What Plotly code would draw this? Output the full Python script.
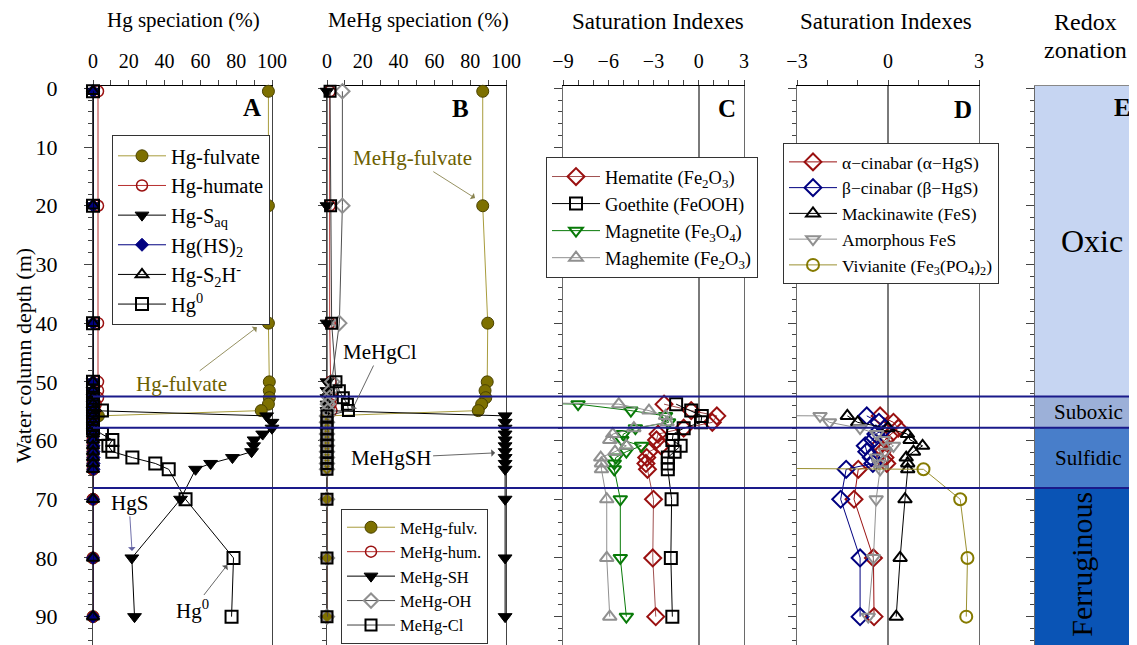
import plotly.graph_objects as go

# ---------------- data ----------------
depth = [0.5, 20, 40, 50, 51.5, 52.7, 53.8, 54.9, 55.8, 56.9, 57.9, 58.9,
         59.9, 60.9, 61.9, 62.9, 63.9, 64.9, 70, 80, 90]

# Panel A : Hg speciation (%)
hg_fulvate = [98, 98, 98, 98.5, 98.5, 98.5, 98, 94, 3, 0, 0, 0, 0, 0, 0, 0, 0, 0, 0, 0, 0]
hg_humate = [2.8, 2.8, 2.8, 2.8, 2.8, 2.8, 1.5, 1, 0, 0, 0, 0, 0, 0, 0, 0, 0, 0, 0, 0, 0]
hg_saq = [0, 0, 0, 0, 0, 0, 0, 0, 97, 100, 100, 94.8, 90, 89.7, 88.6, 77.9, 65.7, 57.3, 48.9, 21.7, 23.2]
hg_hs2 = [0, 0, 0, 0, 0, 0, 0, 0, 0, 0, 0, 0.3, 0.3, 0.3, 0.3, 0.3, 0.3, 0.3, 0, 0, 0]
hg_s2h = [0, 0, 0, 0, 0, 0, 0, 0, 0, 0, 0, 0, 0, 0, 0, 0, 0, 0, 0, 0, 0]
hg0 = [0, 0, 0, 0, 0, 0, 0, 5, 0, 0, 0, 5, 10.8, 8.6, 10.8, 22, 34.8, 42.3, 51.7, 78.5, 77.4]

# Panel B : MeHg speciation (%)
mehg_fulv = [87, 87, 89.8, 89.5, 88.3, 88.7, 86.4, 84.5, 0, 0, 0, 0, 0, 0, 0, 0, 0, 0, 0, 0, 0]
mehg_hum = [1.5, 1.5, 1.5, 2, 2.5, 2.5, 2, 2.5, 0, 0, 0, 0, 0, 0, 0, 0, 0, 0, 0, 0, 0]
mehg_sh = [0, 0, 0, 0, 0, 0, 0, 0, 99.5, 99.5, 99.5, 99.5, 99.5, 99.5, 99.5, 99.5, 99.5, 99.5, 99.5, 99.5, 99.5]
mehg_oh = [8.6, 8.6, 6.9, 3, 2, 1.5, 0.5, 0.5, 0, 0, 0, 0, 0, 0, 0, 0, 0, 0, 0, 0, 0]
mehg_cl = [1.7, 2, 2.6, 5, 6.9, 9.1, 11.4, 12, 0, 0, 0, 0, 0, 0, 0, 0, 0, 0, 0, 0, 0]

# Panel C : saturation indexes of Fe oxides (first depth value off-scale)
depth_c = [52.7, 53.8, 54.9, 55.8, 56.9, 57.9, 58.9, 59.9, 60.9, 61.9, 62.9, 63.9, 64.9, 70, 80, 90]
hematite = [None, -2.3, -0.5, 1.2, 0.9, -1.0, -2.7, -2.8, -2.5, -3.3, -3.45, -3.5, -3.4, -3.0, -3.05, -2.85]
goethite = [None, -1.5, -0.5, 0.2, 0.15, -1.0, -1.7, -1.75, -1.2, -1.6, -2.05, -2.05, -2.05, -1.8, -1.85, -1.75]
magnetite = [-30, -8.0, -4.5, -2.2, -2.0, -4.2, -5.0, -5.1, -3.8, -4.8, -5.5, -5.6, -5.6, -5.2, -5.2, -4.8]
maghemite = [-30, -5.3, -3.3, -2.2, -2.1, -4.3, -5.7, -5.9, -4.8, -5.55, -6.5, -6.45, -6.45, -6.1, -6.1, -5.9]

# Panel D : saturation indexes of sulfides / phosphate
depth_d = [54.9, 55.8, 56.9, 57.9, 58.9, 59.9, 60.9, 61.9, 62.9, 63.9, 64.9, 70, 80, 90]
a_cinabar = [None, -0.26, 0.18, 0.34, 0.1, -0.1, -0.3, -0.2, -0.1, -0.04, -0.98, -1.12, -0.48, -0.46]
b_cinabar = [None, -0.7, -0.3, -0.1, -0.4, -0.5, -0.75, -0.7, -0.55, -0.5, -1.38, -1.56, -0.92, -0.92]
mackinawite = [None, -1.34, -1.0, 0.0, 0.64, 0.73, 1.14, 0.84, 0.6, 0.65, 0.65, 0.56, 0.4, 0.27]
amorph_fes = [-30, -2.24, -1.93, -0.92, -0.37, -0.15, 0.18, -0.1, -0.37, -0.3, -0.26, -0.39, -0.48, -0.65]
vivianite = [None, None, None, None, None, None, None, None, None, -30, 1.17, 2.38, 2.62, 2.58]

# Panel E : redox zonation
zone_names = ["Oxic", "Suboxic", "Sulfidic", "Ferruginous"]
zone_top = [-0.4, 52.5, 57.8, 68.1]
zone_bottom = [52.5, 57.8, 68.1, 94.83]
zone_colors = ["rgb(198,213,242)", "rgb(156,176,216)", "rgb(72,126,202)", "rgb(10,84,181)"]
zone_font = [32, 21, 21, 30]
zone_angle = [0, 0, 0, -90]
zone_xpos = [0.56, 0.52, 0.52, 0.46]
zone_label_depth = [26.0, 55.15, 62.95, 81.0]
boundaries = [52.5, 57.8, 68.1]

# ---------------- layout helpers ----------------
# the page body has an 8 px margin: the figure is drawn at (8, 8)
OFF = 8
W, H = 1137 - OFF, 645 - OFF
TOP = 86 - OFF
PH = H - TOP
SERIF = "Liberation Serif"
YR = [94.83, -0.4]


def px(x):
    """reference-page x pixel -> paper fraction"""
    return (x - OFF) / W


def py(y):
    """reference-page y pixel -> paper fraction"""
    return (H - (y - OFF)) / PH


fig = go.Figure()


def add(xs, ys, name, k, symbol, mcolor, lcolor, legend, size=11, mline=None,
        mlw=2, lw=1.0, clip=True):
    xa = 'x' if k == 1 else f'x{k}'
    ya = 'y' if k == 1 else f'y{k}'
    fig.add_trace(go.Scatter(
        x=xs, y=ys, mode='lines+markers', name=name, xaxis=xa, yaxis=ya,
        marker=dict(symbol=symbol, size=size, color=mcolor,
                    line=dict(color=mline or mcolor, width=mlw)),
        line=dict(color=lcolor, width=lw), legend=legend, cliponaxis=clip))


OLIVE = '#7d7000'
OLIVE_L = '#a89c3c'
DRED = '#9a1010'
NAVY = '#000080'
GRAY = '#909090'
GREEN = '#087a08'

# A
add(hg_fulvate, depth, 'Hg-fulvate', 1, 'circle', OLIVE, OLIVE_L, 'legend', size=12, mline='#4a4200', mlw=1, clip=False)
add(hg_humate, depth, 'Hg-humate', 1, 'circle-open', DRED, '#b83030', 'legend', size=11, mlw=1.5, clip=False)
add(hg_saq, depth, 'Hg-S<sub>aq</sub>', 1, 'triangle-down', 'black', 'black', 'legend', size=12, mlw=1, clip=False)
add(hg_hs2, depth, 'Hg(HS)<sub>2</sub>', 1, 'diamond', NAVY, NAVY, 'legend', size=10, mlw=1, clip=False)
add(hg_s2h, depth, 'Hg-S<sub>2</sub>H<sup>-</sup>', 1, 'triangle-up-open', 'black', 'black', 'legend', size=11, mlw=2, clip=False)
add(hg0, depth, 'Hg<sup>0</sup>', 1, 'square-open', 'black', 'black', 'legend', size=12, mlw=2, clip=False)

# B
add(mehg_fulv, depth, 'MeHg-fulv.', 2, 'circle', OLIVE, OLIVE_L, 'legend2', size=12, mline='#4a4200', mlw=1, clip=False)
add(mehg_hum, depth, 'MeHg-hum.', 2, 'circle-open', DRED, '#b83030', 'legend2', size=11, mlw=1.5, clip=False)
add(mehg_sh, depth, 'MeHg-SH', 2, 'triangle-down', 'black', 'black', 'legend2', size=12, mlw=1, clip=False)
add(mehg_oh, depth, 'MeHg-OH', 2, 'diamond-open', GRAY, '#505050', 'legend2', size=11, mlw=2, clip=False)
add(mehg_cl, depth, 'MeHg-Cl', 2, 'square-open', 'black', '#404040', 'legend2', size=11, mlw=2, clip=False)

# C
add(hematite, depth_c, 'Hematite (Fe<sub>2</sub>O<sub>3</sub>)', 3, 'diamond-open', DRED, '#a05050', 'legend3', size=13, mlw=2)
add(goethite, depth_c, 'Goethite (FeOOH)', 3, 'square-open', 'black', 'black', 'legend3', size=12, mlw=2)
add(magnetite, depth_c, 'Magnetite (Fe<sub>3</sub>O<sub>4</sub>)', 3, 'triangle-down-open', GREEN, GREEN, 'legend3', size=12, mlw=2)
add(maghemite, depth_c, 'Maghemite (Fe<sub>2</sub>O<sub>3</sub>)', 3, 'triangle-up-open', GRAY, GRAY, 'legend3', size=12, mlw=2)

# D
add(a_cinabar, depth_d, 'α−cinabar (α−HgS)', 4, 'diamond-open', DRED, DRED, 'legend4', size=13, mlw=2)
add(b_cinabar, depth_d, 'β−cinabar (β−HgS)', 4, 'diamond-open', NAVY, NAVY, 'legend4', size=13, mlw=2)
add(mackinawite, depth_d, 'Mackinawite (FeS)', 4, 'triangle-up-open', 'black', 'black', 'legend4', size=12, mlw=2)
add(amorph_fes, depth_d, 'Amorphous FeS', 4, 'triangle-down-open', GRAY, GRAY, 'legend4', size=12, mlw=2)
add(vivianite, depth_d, 'Vivianite (Fe<sub>3</sub>(PO<sub>4</sub>)<sub>2</sub>)', 4, 'circle-open', '#857a00', '#9a9030', 'legend4', size=12, mlw=2)

# ---------------- axes ----------------
domains = [(93, 272), (327, 506), (563, 744), (797, 979), (1035, 1137)]
xranges = [[0, 100], [0, 100], [-9, 3], [-3, 3], [0, 1]]
xdticks = [20, 20, 3, 3, None]
xminor = [10, 10, 1, 1, None]
LC = '#444444'
tickfont = dict(family=SERIF, size=20, color='black')

layout = {}
for i in range(5):
    k = i + 1
    xn = 'xaxis' if k == 1 else f'xaxis{k}'
    yn = 'yaxis' if k == 1 else f'yaxis{k}'
    xa = dict(domain=[px(domains[i][0]), min(1.0, px(domains[i][1]))], range=xranges[i],
              anchor='y' if k == 1 else f'y{k}', side='top', showline=True,
              linecolor='black', linewidth=1, mirror=False, showgrid=False,
              zeroline=False, layer='below traces', fixedrange=True, automargin=False)
    if xdticks[i] is not None:
        xa.update(dtick=xdticks[i], tick0=0, ticks='outside', ticklen=5, tickwidth=1,
                  tickcolor=LC, tickfont=tickfont, ticklabelstandoff=4,
                  minor=dict(dtick=xminor[i], tick0=0, ticks='outside', ticklen=5,
                             tickcolor=LC, tickwidth=1))
    else:
        xa.update(ticks='', showticklabels=False, linecolor='#888888')
    if k in (3, 4):
        xa.update(zeroline=True, zerolinecolor='#7a7a7a', zerolinewidth=1.5)
    layout[xn] = xa
    ya = dict(domain=[0, 1], range=YR, anchor='x' if k == 1 else f'x{k}',
              showline=True, linecolor=LC if k < 3 else '#6a6a6a', linewidth=1,
              mirror=(k < 5), showgrid=False, zeroline=False,
              dtick=10, tick0=0, ticks='outside', ticklen=8, tickcolor=LC,
              tickwidth=1, showticklabels=(k == 1), layer='below traces',
              minor=dict(dtick=2, tick0=0, ticks='outside', ticklen=4,
                         tickcolor=LC, tickwidth=1), fixedrange=True, automargin=False)
    if k == 1:
        ya.update(tickfont=dict(family=SERIF, size=22, color='black'), ticklabelstandoff=22)
    layout[yn] = ya

fig.update_layout(**layout)

# ---------------- shapes ----------------
shapes = []
for name, t, b, c in zip(zone_names, zone_top, zone_bottom, zone_colors):
    shapes.append(dict(type='rect', xref='x5', yref='y5', x0=0, x1=1, y0=t, y1=b,
                       fillcolor=c, line=dict(width=0), layer='below'))
for b in boundaries:
    shapes.append(dict(type='line', xref='paper', yref='y', x0=px(93), x1=1, y0=b, y1=b,
                       line=dict(color='#1a1a8a', width=2)))

# ---------------- annotations ----------------
ann = []


def text(x, y, s, size=20, color='black', bold=False, angle=0, xref='paper', yref='paper', **kw):
    if bold:
        s = f'<b>{s}</b>'
    ann.append(dict(x=x, y=y, xref=xref, yref=yref, text=s, showarrow=False,
                    font=dict(family=SERIF, size=size, color=color), textangle=angle,
                    xanchor='center', yanchor='middle', **kw))


text(px(183), py(20), 'Hg speciation (%)', size=21)
text(px(418), py(20), 'MeHg speciation (%)', size=21)
text(px(658), py(22), 'Saturation Indexes', size=23)
text(px(886), py(22), 'Saturation Indexes', size=23)
text(px(1085), py(22), 'Redox', size=24)
text(px(1085), py(50), 'zonation', size=24)
text(px(23), py(356), 'Water column depth (m)', size=22, angle=-90)

for L, (x, y) in zip('ABCDE', [(252, 107), (460, 108), (727, 108), (963, 109), (1122, 107)]):
    text(px(x), py(y), L, size=25, bold=True)

for name, yd, fs, ang, xp in zip(zone_names, zone_label_depth, zone_font, zone_angle, zone_xpos):
    text(xp, yd, name, size=fs, angle=ang, xref='x5', yref='y5')


def arrow(x, y, xr, yr, s, axp, ayp, color='black', acolor='#555555', size=21):
    ann.append(dict(x=x, y=y, xref=xr, yref=yr, text=s, showarrow=True, ax=axp, ay=ayp,
                    arrowhead=1, arrowsize=1.4, arrowwidth=0.9, arrowcolor=acolor,
                    font=dict(family=SERIF, size=size, color=color)))


arrow(91.6, 40.7, 'x', 'y', 'Hg-fulvate', -75, 57, color='#6b6000', acolor='#8a8450')
arrow(82.7, 18.7, 'x2', 'y2', 'MeHg-fulvate', -63, -40, color='#6b6000', acolor='#8a8450')
arrow(14, 54.8, 'x2', 'y2', 'MeHgCl', 28, -58)
arrow(93.9, 62.1, 'x2', 'y2', 'MeHgSH', -104, 5)
arrow(21.8, 78.8, 'x', 'y', 'HgS', -3, -48, acolor='#6060a0')
arrow(75, 81.2, 'x', 'y', 'Hg<sup>0</sup>', -35, 45)

legend_common = dict(xanchor='left', yanchor='top', bgcolor='white', bordercolor='#333333',
                     borderwidth=1, itemwidth=48, traceorder='normal')


def lfont(s):
    return dict(family=SERIF, size=s, color='black')


fig.update_layout(
    width=W, height=H,
    margin=dict(l=0, r=0, t=TOP, b=0, pad=0, autoexpand=False),
    paper_bgcolor='white', plot_bgcolor='white',
    shapes=shapes, annotations=ann, showlegend=True,
    legend=dict(x=px(112), y=py(135), font=lfont(20.5), **legend_common),
    legend2=dict(x=px(341), y=py(509), font=lfont(16.5), **legend_common),
    legend3=dict(x=px(546), y=py(157), font=lfont(18.5), **legend_common),
    legend4=dict(x=px(783), y=py(143), font=lfont(17.5), **legend_common),
)

fig.write_html("out.html")
